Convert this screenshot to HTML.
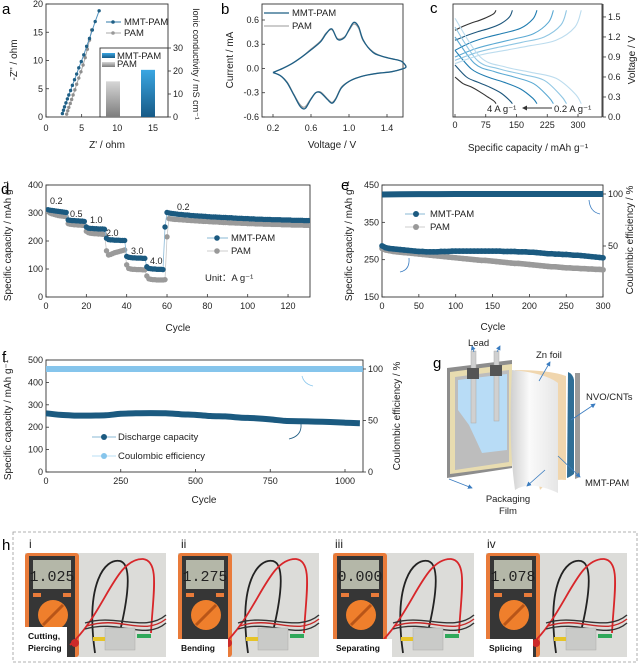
<!DOCTYPE html>
<html><head><meta charset="utf-8"><style>
html,body{margin:0;padding:0;background:#fff}
svg{display:block;font-family:"Liberation Sans",sans-serif}
</style></head><body>
<svg id="fig" xmlns="http://www.w3.org/2000/svg" width="639" height="665" viewBox="0 0 639 665">
<defs>
<linearGradient id="gBlue" x1="0" y1="0" x2="0" y2="1"><stop offset="0" stop-color="#3aa6e2"/><stop offset="1" stop-color="#175a86"/></linearGradient>
<linearGradient id="gGray" x1="0" y1="0" x2="0" y2="1"><stop offset="0" stop-color="#d6d6d6"/><stop offset="1" stop-color="#7d7d7d"/></linearGradient>
<linearGradient id="gPage" x1="0" y1="0" x2="1" y2="0"><stop offset="0" stop-color="#cfcfcf"/><stop offset="0.4" stop-color="#fafafa"/><stop offset="1" stop-color="#e6e6e6"/></linearGradient>
<clipPath id="clipC"><rect x="453" y="4" width="149" height="113"/></clipPath>
<clipPath id="clipD"><rect x="46" y="185" width="264" height="112"/></clipPath>
<marker id="arr" markerWidth="6" markerHeight="6" refX="5" refY="3" orient="auto"><path d="M0,0 L6,3 L0,6 z" fill="#3a7cc0"/></marker>
</defs>

<!-- panel letters -->
<g font-size="15" fill="#000">
<text x="2" y="14">a</text>
<text x="221" y="14">b</text>
<text x="430" y="13">c</text>
<text x="1" y="194">d</text>
<text x="341" y="190">e</text>
<text x="2" y="362">f</text>
<text x="433" y="368">g</text>
<text x="2" y="550">h</text>
</g>

<!-- frames -->
<g fill="none" stroke="#333" stroke-width="0.9">
<rect x="46" y="4" width="122" height="113"/>
<rect x="100" y="48" width="68" height="69"/>
<rect x="262" y="4" width="141" height="113"/>
<rect x="453" y="4" width="149" height="113"/>
<line x1="603" y1="4" x2="603" y2="117"/>
<rect x="46" y="185" width="264" height="112"/>
<rect x="382" y="185" width="221" height="112"/>
<rect x="46" y="360" width="317" height="112"/>
</g>

<!-- axis titles -->
<g font-size="10" fill="#222">
<text transform="translate(17,60) rotate(-90)" text-anchor="middle">-Z'' / ohm</text>
<text x="107" y="148" text-anchor="middle">Z' / ohm</text>
<text transform="translate(193,64) rotate(90)" text-anchor="middle" font-size="9">Ionic conductivity / mS cm⁻¹</text>
<text transform="translate(233,60) rotate(-90)" text-anchor="middle">Current / mA</text>
<text x="332" y="148" text-anchor="middle">Voltage / V</text>
<text x="528" y="151" text-anchor="middle">Specific capacity / mAh g⁻¹</text>
<text transform="translate(635,60) rotate(-90)" text-anchor="middle">Voltage / V</text>
<text transform="translate(11,241) rotate(-90)" text-anchor="middle">Specific capacity / mAh g⁻¹</text>
<text x="178" y="331" text-anchor="middle">Cycle</text>
<text transform="translate(352,241) rotate(-90)" text-anchor="middle">Specific capacity / mAh g⁻¹</text>
<text x="493" y="330" text-anchor="middle">Cycle</text>
<text transform="translate(633,240) rotate(-90)" text-anchor="middle">Coulombic efficiency / %</text>
<text transform="translate(11,420) rotate(-90)" text-anchor="middle">Specific capacity / mAh g⁻¹</text>
<text x="204" y="503" text-anchor="middle">Cycle</text>
<text transform="translate(400,416) rotate(-90)" text-anchor="middle">Coulombic efficiency / %</text>
</g>

<!-- legends -->
<g font-size="9.5" fill="#222">
<g>
<line x1="106" y1="22" x2="121" y2="22" stroke="#2f78a8"/><circle cx="113" cy="22" r="1.8" fill="#1f5f85"/><text x="124" y="25">MMT-PAM</text>
<line x1="106" y1="33" x2="121" y2="33" stroke="#aaa"/><circle cx="113" cy="33" r="1.8" fill="#999"/><text x="124" y="36">PAM</text>
</g>
<g>
<rect x="102" y="53" width="13" height="5" fill="url(#gBlue)"/><text x="117" y="59">MMT-PAM</text>
<rect x="102" y="62" width="13" height="5" fill="url(#gGray)"/><text x="117" y="67">PAM</text>
</g>
<g>
<line x1="264" y1="13" x2="289" y2="13" stroke="#1f5f85" stroke-width="1.3"/><text x="292" y="16">MMT-PAM</text>
<line x1="264" y1="26" x2="289" y2="26" stroke="#999"/><text x="292" y="29">PAM</text>
</g>
<g>
<line x1="207" y1="238" x2="228" y2="238" stroke="#8ab8d6"/><circle cx="217" cy="238" r="2.8" fill="#1b5a80"/><text x="231" y="241">MMT-PAM</text>
<line x1="207" y1="251" x2="228" y2="251" stroke="#ccc"/><circle cx="217" cy="251" r="2.8" fill="#999"/><text x="231" y="254">PAM</text>
<text x="205" y="281">Unit：A g⁻¹</text>
</g>
<g>
<line x1="405" y1="214" x2="425" y2="214" stroke="#8ab8d6"/><circle cx="416" cy="214" r="3" fill="#1b5a80"/><text x="430" y="217">MMT-PAM</text>
<line x1="405" y1="227" x2="425" y2="227" stroke="#ccc"/><circle cx="416" cy="227" r="3" fill="#999"/><text x="430" y="230">PAM</text>
</g>
<g>
<line x1="92" y1="437" x2="116" y2="437" stroke="#8ab8d6"/><circle cx="104" cy="437" r="3" fill="#1b5a80"/><text x="118" y="440">Discharge capacity</text>
<line x1="92" y1="456" x2="116" y2="456" stroke="#b9dff5"/><circle cx="104" cy="456" r="3" fill="#86c5ec"/><text x="118" y="459">Coulombic efficiency</text>
</g>
</g>

<!-- annotations -->
<g font-size="9.5" fill="#222">
<text x="487" y="112">4 A g⁻¹</text>
<line x1="552" y1="108" x2="524" y2="108" stroke="#333" stroke-width="0.9"/>
<path d="M522,108 l5,-2.5 v5 z" fill="#333"/>
<text x="554" y="112">0.2 A g⁻¹</text>
<g font-size="9">
<text x="50" y="204">0.2</text><text x="70" y="217">0.5</text><text x="90" y="223">1.0</text>
<text x="106" y="236">2.0</text><text x="131" y="254">3.0</text><text x="150" y="264">4.0</text><text x="177" y="210">0.2</text>
</g>
<g fill="none" stroke="#3a7cc0" stroke-width="0.8">
<path d="M409,258 Q410,270 400,272"/>
<path d="M589,200 Q590,212 600,214"/>
<path d="M302,376 Q304,384 313,386" stroke="#86c5ec"/>
<path d="M301,424 Q302,436 289,439" stroke="#1b5a80"/>
</g>
</g>

<!-- panel g illustration -->
<g>
<polygon points="575,373 580,373 580,477 575,479" fill="#9a9a9a"/>
<polygon points="447,368 512,360 512,468 447,478" fill="#8d8d8d"/>
<polygon points="450,372 512,364 512,466 450,474" fill="#e8dcb0"/>
<polygon points="455,377 509,370 509,462 455,470" fill="#bdbdbd"/>
<polygon points="458,380 507,374 507,450 482,453 476,440 469,425 458,410" fill="#b8dcf6"/>
<rect x="471" y="351" width="5" height="72" fill="#d0d0d0" stroke="#aaa" stroke-width="0.5"/>
<rect x="494" y="351" width="5" height="70" fill="#d0d0d0" stroke="#aaa" stroke-width="0.5"/>
<rect x="467" y="368" width="12" height="11" fill="#555"/>
<rect x="490" y="365" width="12" height="11" fill="#555"/>
<path d="M568,372 Q573,374 574,380 L574,474 Q570,477 567,478 Z" fill="#2f6e96"/>
<path d="M515,370 Q550,370 566,376 L566,480 Q550,478 540,490 Z" fill="#f0d6ae"/>
<path d="M512,370 Q545,373 558,383 L558,493 Q530,480 515,490 Q508,440 512,370 Z" fill="url(#gPage)"/>
<g fill="none" stroke="#3a7cc0" stroke-width="0.8" marker-end="url(#arr)">
<line x1="474" y1="352" x2="472" y2="346"/><line x1="497" y1="352" x2="500" y2="346"/>
<line x1="539" y1="381" x2="550" y2="362"/><line x1="571" y1="420" x2="595" y2="404"/>
<line x1="558" y1="456" x2="580" y2="477"/><line x1="545" y1="470" x2="527" y2="486"/>
<line x1="449" y1="479" x2="472" y2="488"/>
</g>
<g font-size="9.5" fill="#222">
<text x="468" y="346">Lead</text><text x="536" y="358">Zn foil</text>
<text x="586" y="400">NVO/CNTs</text><text x="585" y="486">MMT-PAM</text>
<text x="508" y="502" text-anchor="middle">Packaging</text><text x="508" y="514" text-anchor="middle">Film</text>
</g>
</g>

<!-- panel h -->
<rect x="13" y="532" width="624" height="130" fill="none" stroke="#999" stroke-width="0.8" stroke-dasharray="3,2"/>
<g font-size="12" fill="#222">
<text x="29" y="548">i</text>
<text x="181" y="548">ii</text>
<text x="335" y="548">iii</text>
<text x="487" y="548">iv</text>
</g>
<g id="photos"></g>

<g id="marks"></g>
</svg>
<script>
// ---------- DATA ----------
// panel a
const nyqMmtX = [2.3,2.45,2.6,2.8,3.0,3.2,3.45,3.7,4.0,4.3,4.6,4.95,5.3,5.7,6.1,6.5,6.9,7.45];
const nyqMmtY = [0.6,1.2,1.8,2.5,3.2,3.9,4.7,5.6,6.6,7.6,8.7,9.8,11.0,12.5,13.9,15.4,16.9,18.8];
const nyqPamX = [2.9,3.05,3.2,3.4,3.6,3.8,4.05,4.3,4.6,4.9,5.2,5.5,5.8,6.1,6.4];
const nyqPamY = [0.5,1.1,1.7,2.4,3.1,3.9,4.8,5.8,6.9,8.0,9.2,10.5,12.0,13.6,15.4];
const condCategories = ["PAM","MMT-PAM"];
const condValues = [15.5,20.5];
const aXTicks = [0,5,10,15], aYTicks = [0,5,10,15,20], aY2Ticks = [0,10,20,30];
// panel b
const cvV = [0.2,0.3,0.4,0.5,0.6,0.7,0.76,0.82,0.88,0.95,1.0,1.05,1.1,1.15,1.25,1.35,1.45,1.55,1.6,1.55,1.45,1.3,1.2,1.1,1.0,0.92,0.86,0.82,0.77,0.7,0.65,0.6,0.55,0.52,0.48,0.42,0.35,0.28,0.2];
const cvMmt = [-0.05,0.0,0.06,0.14,0.23,0.33,0.43,0.49,0.36,0.38,0.48,0.57,0.52,0.35,0.2,0.15,0.12,0.09,0.02,-0.01,-0.04,-0.06,-0.08,-0.11,-0.16,-0.24,-0.38,-0.43,-0.38,-0.3,-0.3,-0.38,-0.48,-0.5,-0.46,-0.33,-0.18,-0.09,-0.05];
const cvPam = [-0.05,0.0,0.06,0.14,0.24,0.34,0.44,0.48,0.37,0.39,0.47,0.55,0.5,0.34,0.21,0.15,0.12,0.09,0.02,-0.01,-0.04,-0.06,-0.08,-0.11,-0.16,-0.23,-0.37,-0.42,-0.37,-0.29,-0.3,-0.37,-0.46,-0.48,-0.44,-0.32,-0.17,-0.09,-0.05];
const bXTicks = [0.2,0.6,1.0,1.4], bYTicks = [0.6,0.3,0.0,-0.3,-0.6];
// panel c
const gcdRates = ["4","3","2","1","0.5","0.2"];
const gcdCaps = [100,140,200,240,272,308];
const gcdFrac = [0,0.2,0.4,0.6,0.8,0.95,1];
const chg1=[1.3,1.36,1.41,1.45,1.5,1.55,1.6], chg2=[1.15,1.22,1.28,1.33,1.4,1.5,1.6], chg3=[1.0,1.12,1.2,1.26,1.33,1.47,1.6];
const chg4=[0.9,1.02,1.1,1.17,1.25,1.42,1.6], chg5=[0.85,0.97,1.05,1.12,1.2,1.38,1.6], chg6=[0.8,0.93,1.0,1.07,1.15,1.35,1.6];
const dis1=[0.6,0.5,0.45,0.38,0.3,0.24,0.2], dis2=[0.78,0.6,0.52,0.45,0.36,0.25,0.2], dis3=[1.0,0.72,0.6,0.52,0.42,0.28,0.2];
const dis4=[1.2,0.8,0.68,0.6,0.5,0.3,0.2], dis5=[1.35,0.85,0.72,0.64,0.55,0.32,0.2], dis6=[1.48,0.9,0.75,0.67,0.58,0.35,0.2];
const cXTicks = [0,75,150,225,300], cYTicks = [0.0,0.3,0.6,0.9,1.2,1.5];
// panel d
const rateMmt = [312,310,309,308,307,306,305,304,303,302, 275,274,273,273,272,272,271,271,270, 250,246,245,245,244,244,243,243,243,242, 210,205,204,204,203,203,203,202,202,202, 145,142,141,140,140,139,139,139,138,138, 108,102,101,100,100,99,99,99,98, 250,
302,300,299,298,297,296,295,295,294,293, 293,292,291,291,290,290,289,289,288,288, 287,287,286,286,286,285,285,284,284,284, 283,283,283,282,282,281,281,281,280,280, 280,279,279,279,278,278,278,278,277,277, 277,277,276,276,276,276,276,275,275,275, 275,275,274,274,274,274,274,274,273,273,273];
const ratePam = [305,300,297,295,293,291,290,289,288,287, 262,260,259,258,258,257,257,256,256, 235,230,228,227,226,226,225,225,224,224, 165,150,152,155,158,160,162,164,166,168, 115,102,100,99,99,98,98,98,97,97, 75,65,63,62,62,61,61,61,61, 62, 215,
280,279,278,277,277,276,276,275,275,274, 274,273,273,272,272,271,271,270,270,270, 269,269,268,268,268,267,267,266,266,266, 265,265,265,264,264,264,263,263,263,262, 262,262,262,261,261,261,261,260,260,260, 260,259,259,259,259,259,258,258,258,258, 258,257,257,257,257,257,257,256,256,256];
const dXTicks = [0,20,40,60,80,100,120], dYTicks = [0,100,200,300,400];
// panel e (every 5 cycles)
const cycE = [0,5,10,15,20,25,30,35,40,45,50,55,60,65,70,75,80,85,90,95,100,105,110,115,120,125,130,135,140,145,150,155,160,165,170,175,180,185,190,195,200,205,210,215,220,225,230,235,240,245,250,255,260,265,270,275,280,285,290,295,300];
const capEMmt = [287,282,280,279,278,277,276,275,274,273, 272,272,271,271,271,271,272,272,272,273, 273,273,273,273,273,273,273,273,273,273, 273,273,273,272,272,272,272,271,271,271, 270,270,269,268,267,266,266,265,265,264, 264,263,262,262,261,260,259,258,257,256,255];
const capEPam = [280,276,274,272,271,270,269,268,267,266, 265,264,263,262,261,260,259,258,257,256, 255,254,253,252,251,250,249,248,248,247, 246,245,244,243,242,241,240,240,239,238, 237,236,235,234,233,232,231,231,230,229, 228,228,227,227,226,226,225,225,224,224,223];
const cycCeE = [0,25,50,75,100,125,150,175,200,225,250,275,300];
const ceE = [99.5,99.8,99.9,99.9,100,100,100,100,100,100,100,100,100];
const eXTicks = [0,50,100,150,200,250,300], eYTicks = [150,250,350,450], eY2Ticks = [50,100];
// panel f (every 50 cycles)
const cycF = [0,50,100,150,200,250,300,350,400,450,500,550,600,650,700,750,800,850,900,950,1000,1050];
const capF = [262,255,252,252,253,260,262,263,262,258,255,250,248,243,240,235,228,227,225,223,220,218];
const cycCeF = [0,100,200,300,400,500,600,700,800,900,1000,1060];
const ceF = [100,100,100,100,100,100,100,100,100,100,100,100];
const fXTicks = [0,250,500,750,1000], fYTicks = [0,100,200,300,400,500], fY2Ticks = [0,50,100];
// panel h
const photoLabels = [["Cutting,","Piercing"],["Bending"],["Separating"],["Splicing"]];
const meterReadings = ["1.025","1.275","0.000","1.078"];

// ---------- SCALES ----------
const Xa=v=>46+v*7.13, Ya=v=>117-v*5.65, Ya2=v=>117-v*2.3;
const Xb=v=>273+(v-0.2)*95, Yb=v=>20+(0.6-v)*80.8;
const Xc=v=>455+v*0.41, Yc=v=>117-v*66.7;
const Xd=v=>46+v*2.017, Yd=v=>297-v*0.28;
const Xe=v=>382+v*0.737, Ye=v=>297-(v-150)*0.3733, Ye2=v=>298-v*1.04;
const Xf=v=>46+v*0.299, Yf=v=>472-v*0.224, Yf2=v=>472-v*1.03;

const NS="http://www.w3.org/2000/svg";
const marks=document.getElementById('marks');
function mk(tag,a,parent){const e=document.createElementNS(NS,tag);for(const k in a)e.setAttribute(k,a[k]);(parent||marks).appendChild(e);return e;}
function smooth(p){let d='M'+p[0][0].toFixed(1)+','+p[0][1].toFixed(1);for(let i=0;i<p.length-1;i++){const p0=p[i-1]||p[i],p1=p[i],p2=p[i+1],p3=p[i+2]||p2;
d+=' C'+(p1[0]+(p2[0]-p0[0])/6).toFixed(1)+','+(p1[1]+(p2[1]-p0[1])/6).toFixed(1)+' '+(p2[0]-(p3[0]-p1[0])/6).toFixed(1)+','+(p2[1]-(p3[1]-p1[1])/6).toFixed(1)+' '+p2[0].toFixed(1)+','+p2[1].toFixed(1);}return d;}
function fmt(v,dec){return dec?v.toFixed(dec):String(v);}
function ticks(name,vals,scale,side,at,dec,out){
  const g=mk('g',{'font-size':'9','fill':'#222'});
  
  
  vals.forEach(v=>{
    const p=scale(v);let t;
    if(side==='b'){mk('line',{x1:p,y1:at,x2:p,y2:at-3,stroke:'#333','stroke-width':0.8},g);
      t=mk('text',{x:p,y:at+(out||11),'text-anchor':'middle'},g);}
    else if(side==='l'){mk('line',{x1:at,y1:p,x2:at+3,y2:p,stroke:'#333','stroke-width':0.8},g);
      t=mk('text',{x:at-3,y:p+3,'text-anchor':'end'},g);}
    else {mk('line',{x1:at,y1:p,x2:at+3,y2:p,stroke:'#333','stroke-width':0.8},g);
      t=mk('text',{x:at+5,y:p+3},g);}
    t.textContent=fmt(v,dec);
    
    
  });
}

// ---------- PANEL A ----------
ticks('x-ticks-a',aXTicks,Xa,'b',117,0,14);
ticks('y-ticks-a',aYTicks,Ya,'l',46);
ticks('y2-ticks-a',aY2Ticks,Ya2,'r',168);
const barFills=['url(#gGray)','url(#gBlue)'];
const barCenters=[113,148];
condValues.forEach((v,i)=>{
  const b=mk('rect',{x:barCenters[i]-7,y:Ya2(v),width:14,height:Ya2(0)-Ya2(v),fill:barFills[i]});
  
  
});
[[nyqPamX,nyqPamY,'#a8a8a8','#8e8e8e','pam'],[nyqMmtX,nyqMmtY,'#4f90bd','#1f5f85','mmt-pam']].forEach(s=>{
  const pts=s[0].map((x,i)=>Xa(x)+','+Ya(s[1][i])).join(' ');
  const l=mk('polyline',{points:pts,fill:'none',stroke:s[2],'stroke-width':1});
  
  
  s[0].forEach((x,i)=>{const c=mk('circle',{cx:Xa(x),cy:Ya(s[1][i]),r:1.7,fill:s[3]});
    
    });
});

// ---------- PANEL B ----------
ticks('x-ticks-b',bXTicks,Xb,'b',117,1,14);
ticks('y-ticks-b',bYTicks,Yb,'l',262,1);
[[cvPam,'#9a9a9a',1.1,'pam'],[cvMmt,'#1f5f85',1.3,'mmt-pam']].forEach(s=>{
  const p=mk('path',{d:smooth(cvV.map((v,i)=>[Xb(v),Yb(s[0][i])])),fill:'none',stroke:s[1],'stroke-width':s[2]});
  
  
});

// ---------- PANEL C ----------
ticks('x-ticks-c',cXTicks,Xc,'b',117,0,11);
ticks('y-ticks-c',cYTicks,Yc,'r',603,1);
const gc=mk('g',{'clip-path':'url(#clipC)'});


const chg=[chg1,chg2,chg3,chg4,chg5,chg6], dis=[dis1,dis2,dis3,dis4,dis5,dis6];
const gcdColors=['#333333','#1d567c','#1f7cb0','#5aa9d3','#8fc6e3','#bcdcee'];
gcdCaps.forEach((cap,k)=>{
  [chg[k],dis[k]].forEach((vs,j)=>{
    const p=mk('path',{d:smooth(vs.map((v,i)=>[Xc(gcdFrac[i]*cap),Yc(v)])),fill:'none',stroke:gcdColors[k],'stroke-width':1.1},gc);
    
    
  });
});

// ---------- PANEL D ----------
ticks('x-ticks-d',dXTicks,Xd,'b',297,0,12);
ticks('y-ticks-d',dYTicks,Yd,'l',46);
const gd=mk('g',{'clip-path':'url(#clipD)'});


[[ratePam,'#c8c8c8','#9a9a9a','pam'],[rateMmt,'#8ab8d6','#1b5a80','mmt-pam']].forEach(s=>{
  const l=mk('polyline',{points:s[0].map((v,i)=>Xd(i+1)+','+Yd(v)).join(' '),fill:'none',stroke:s[1],'stroke-width':0.8},gd);
  
  
  s[0].forEach((v,i)=>{const c=mk('circle',{cx:Xd(i+1),cy:Yd(v),r:2.7,fill:s[2]},gd);
    
    });
});

// ---------- PANEL E ----------
ticks('x-ticks-e',eXTicks,Xe,'b',297,0,12);
ticks('y-ticks-e',eYTicks,Ye,'l',382);
ticks('y2-ticks-e',eY2Ticks,Ye2,'r',603);
const ceLine=mk('polyline',{points:cycCeE.map((c,i)=>Xe(c)+','+Ye2(ceE[i])).join(' '),fill:'none',stroke:'#1b5a80','stroke-width':6});


[[capEPam,'#9a9a9a','pam'],[capEMmt,'#1b5a80','mmt-pam']].forEach(s=>{
  const l=mk('polyline',{points:cycE.map((c,i)=>Xe(c)+','+Ye(s[0][i])).join(' '),fill:'none',stroke:s[1],'stroke-width':5.5});
  
  
  cycE.forEach((c,i)=>{const p=mk('circle',{cx:Xe(c),cy:Ye(s[0][i]),r:2.8,fill:s[1]});
    
    });
});

// ---------- PANEL F ----------
ticks('x-ticks-f',fXTicks,Xf,'b',472,0,12);
ticks('y-ticks-f',fYTicks,Yf,'l',46);
ticks('y2-ticks-f',fY2Ticks,Yf2,'r',363);
const ceF_line=mk('path',{d:smooth(cycCeF.map((c,i)=>[Xf(c),Yf2(ceF[i])])),fill:'none',stroke:'#86c5ec','stroke-width':6});


const capF_line=mk('path',{d:smooth(cycF.map((c,i)=>[Xf(c),Yf(capF[i])])),fill:'none',stroke:'#1b5a80','stroke-width':6});



// ---------- PANEL H PHOTOS ----------
const photos=document.getElementById('photos');
const photoX=[25,178,333,486];
photoX.forEach((x0,k)=>{
  const g=mk('g',{transform:'translate('+x0+',553)'},photos);
  
  
  mk('rect',{x:0,y:0,width:141,height:104,fill:'#dcdcd9'},g);
  mk('rect',{x:0,y:0,width:54,height:104,fill:'#e97b3a',rx:3},g);
  mk('rect',{x:4,y:3,width:46,height:101,fill:'#363636'},g);
  mk('rect',{x:8,y:7,width:38,height:29,fill:'#b4b7a8'},g);
  const rd=mk('text',{x:27,y:28,'text-anchor':'middle','font-size':'15','font-family':'Liberation Mono, monospace',fill:'#222'},g);
  rd.textContent=meterReadings[k];
  
  
  mk('rect',{x:8,y:40,width:8,height:4,fill:'#e97b3a'},g);
  mk('rect',{x:38,y:40,width:8,height:4,fill:'#e97b3a'},g);
  mk('circle',{cx:28,cy:62,r:15,fill:'#ef7f2c'},g);
  mk('line',{x1:18,y1:72,x2:38,y2:52,stroke:'#b85518','stroke-width':3},g);
  mk('path',{d:'M70,100 C60,30 80,5 95,8 C110,12 100,60 92,90',fill:'none',stroke:'#222','stroke-width':1.8},g);
  mk('path',{d:'M45,92 C80,60 90,5 118,6 C135,8 128,40 126,80',fill:'none',stroke:'#d8262a','stroke-width':1.8},g);
  mk('path',{d:'M60,70 C90,60 120,80 141,62 M60,76 C95,66 120,88 141,70',fill:'none',stroke:'#333','stroke-width':1.4},g);
  mk('path',{d:'M62,73 C95,62 118,84 141,66',fill:'none',stroke:'#c62828','stroke-width':1.4},g);
  mk('circle',{cx:50,cy:90,r:4,fill:'#cc2a2a'},g);
  mk('rect',{x:80,y:75,width:30,height:22,fill:'#c9cac8',stroke:'#aaa','stroke-width':0.5},g);
  mk('rect',{x:68,y:84,width:12,height:4,fill:'#e6c428'},g);
  mk('rect',{x:112,y:81,width:14,height:4,fill:'#2fa85a'},g);
  const lines=photoLabels[k];
  const w=[42,50,59,47][k], h=lines.length*12+6;
  mk('rect',{x:0,y:104-h,width:w,height:h,fill:'#fff'},g);
  lines.forEach((s,j)=>{const t=mk('text',{x:3,y:104-h+12+j*12,'font-size':'8.5','font-weight':'bold',fill:'#111'},g);
    t.textContent=s;
    
    });
});
</script>
</body></html>
